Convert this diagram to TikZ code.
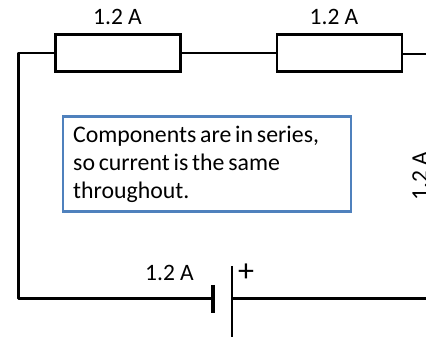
\documentclass[tikz,border=0pt]{standalone}
\usepackage{fontspec}
\setmainfont{Carlito}
\usetikzlibrary{calc}
\definecolor{boxblue}{RGB}{79,129,189}
\tikzset{
	resistor/.style={draw=black, line width=2.6pt, minimum width=125pt, minimum height=37pt, inner sep=0pt},
	wire/.style={line width=1.4pt, color=black},
	thickwire/.style={line width=2.2pt, color=black},
	current/.style={font=\fontsize{23.5}{23.5}\selectfont, inner sep=0pt},
	notebox/.style={draw=boxblue, line width=2.4pt, fill=white, minimum width=288pt, minimum height=95pt, inner sep=0pt},
}
\begin{document}
\begin{tikzpicture}[x=1pt, y=-1pt]
		%%%%% START %%%%%
		\useasboundingbox (0, 0) rectangle (426, 339);
		
		\node[resistor] (resone) at (118, 53) {};
		\node[resistor] (restwo) at (339.5, 53) {};
		\node[current] (labone) at (117.5, 17) {1.2 A};
		\node[current] (labtwo) at (334, 17) {1.2 A};
		\node[current] (labbat) at (169.5, 273) {1.2 A};
		\node[current, rotate=90] (labright) at (420, 176) {1.2 A};
		\node[inner sep=0pt, font=\fontsize{32}{32}\selectfont] (plus) at (246, 273) {+};
		
		\coordinate (topleft) at (18.5, 53);
		\coordinate (botleft) at (18.5, 298.5);
		\coordinate (topright) at (426, 54);
		\coordinate (botright) at (426, 298.5);
		\coordinate (negtop) at (213, 285);
		\coordinate (negbot) at (213, 313);
		\coordinate (postop) at (232, 266);
		\coordinate (posbot) at (232, 337);
		\coordinate (neg) at (213, 298.5);
		\coordinate (pos) at (232, 298.5);
		
		\draw[wire] (restwo.west) -- (resone.east);
		\draw[wire] (restwo.east |- topright) -- (topright);
		\draw[thickwire, line join=round] (resone.west) -- (topleft) -- (botleft) -- (neg);
		\draw[thickwire] (pos) -- (botright);
		\draw[line width=4.5pt] (negtop) -- (negbot);
		\draw[thickwire] (postop) -- (posbot);
		
		\node[notebox, anchor=north west, align=left, text width=268pt, font=\fontsize{23.8}{28}\selectfont] (note) at (62, 115.5) {\spaceskip=0.16em Components are in series,\\so current is the same\\throughout.};
		%%%%% END %%%%%
	\end{tikzpicture}
\end{document}
